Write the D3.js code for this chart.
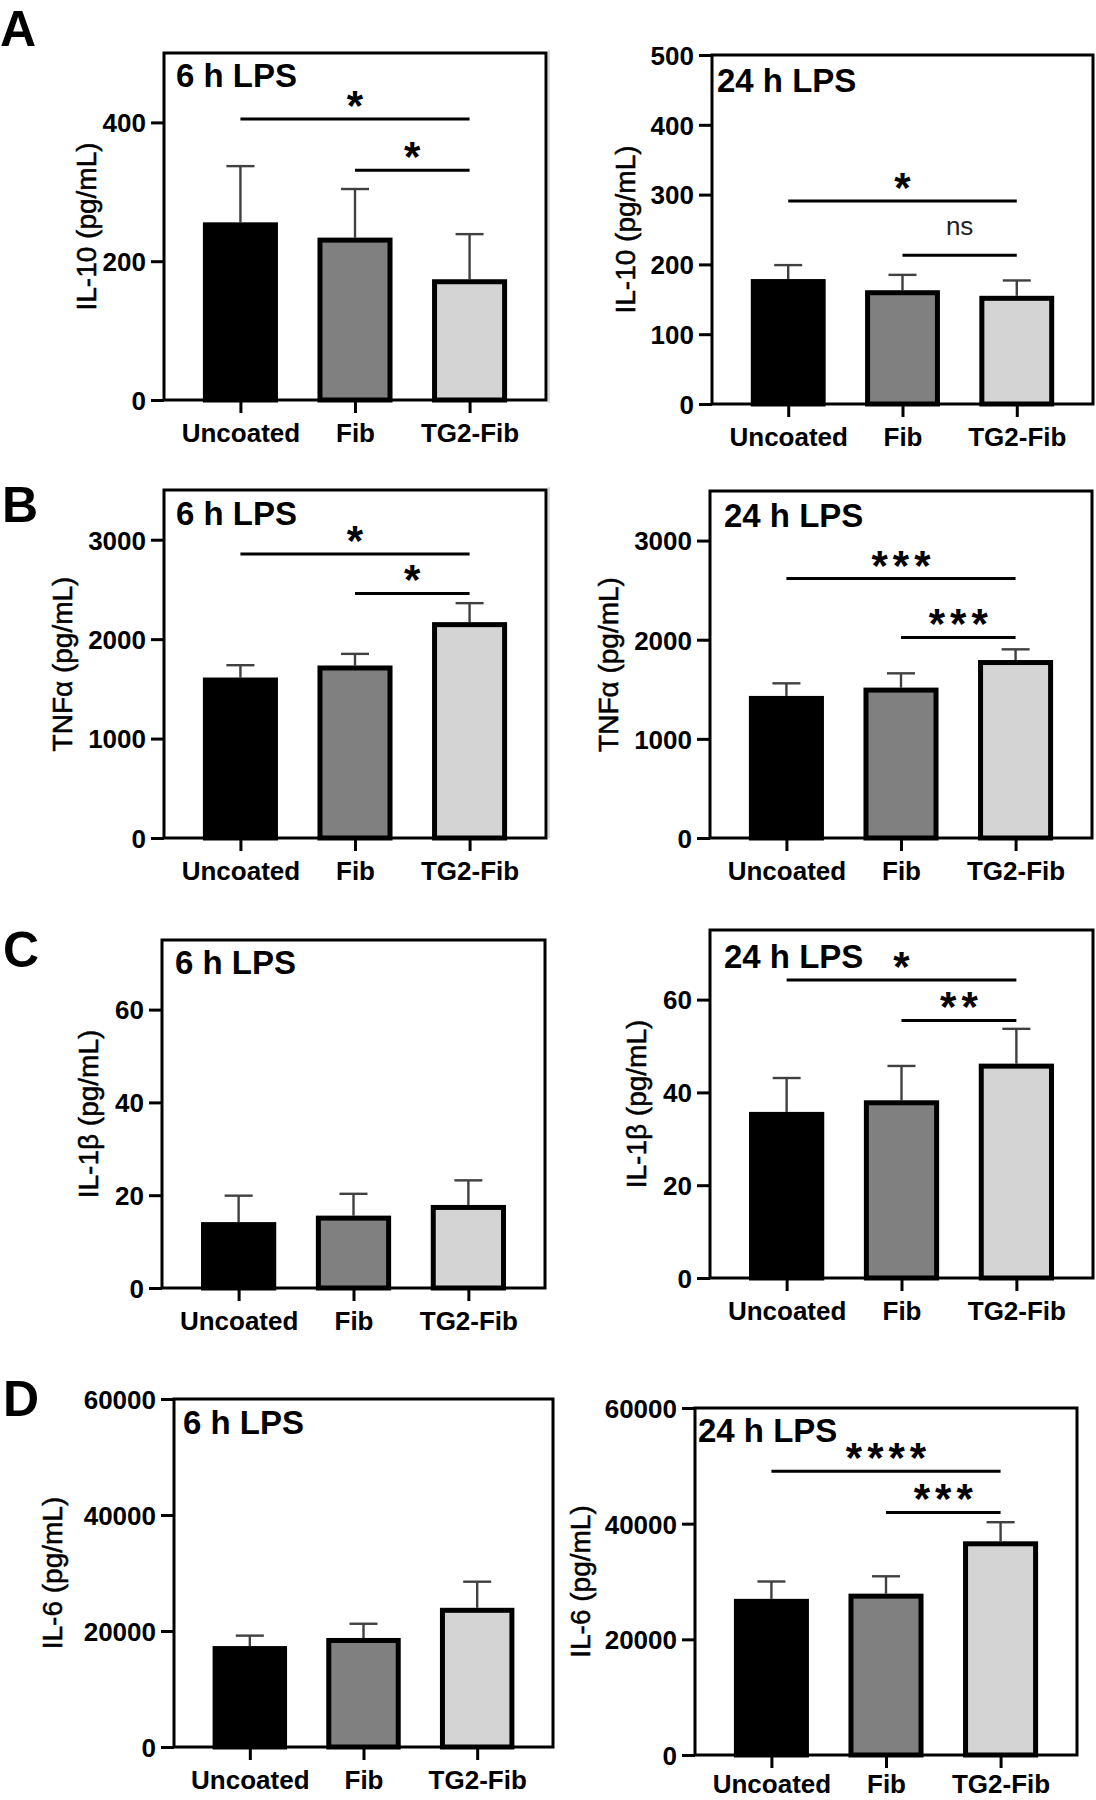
<!DOCTYPE html>
<html><head><meta charset="utf-8">
<script src="https://cdn.jsdelivr.net/npm/d3@7"></script>
<style>
html,body{margin:0;padding:0;background:#fff;}
svg text{font-family:"Liberation Sans",Arial,Helvetica,sans-serif;}
</style>
</head><body>
<svg id="chart" width="1096" height="1800"></svg>
<script>
// ---------- data ----------
const categories = ["Uncoated", "Fib", "TG2-Fib"];

const il10_6h_mean = [256, 234, 174];
const il10_6h_err = [81, 70, 65];
const il10_6h_ticks = [0, 200, 400];
const il10_6h_sig = [
  {from: 0, to: 2, y: 405, label: "*"},
  {from: 1, to: 2, y: 331, label: "*"}
];

const il10_24h_mean = [179, 163, 155];
const il10_24h_err = [20, 22, 22];
const il10_24h_ticks = [0, 100, 200, 300, 400, 500];
const il10_24h_sig = [
  {from: 0, to: 2, y: 291, label: "*"},
  {from: 1, to: 2, y: 213, label: "ns"}
];

const tnf_6h_mean = [1614, 1735, 2171];
const tnf_6h_err = [124, 117, 191];
const tnf_6h_ticks = [0, 1000, 2000, 3000];
const tnf_6h_sig = [
  {from: 0, to: 2, y: 2856, label: "*"},
  {from: 1, to: 2, y: 2460, label: "*"}
];

const tnf_24h_mean = [1433, 1517, 1795];
const tnf_24h_err = [127, 144, 108];
const tnf_24h_ticks = [0, 1000, 2000, 3000];
const tnf_24h_sig = [
  {from: 0, to: 2, y: 2617, label: "***"},
  {from: 1, to: 2, y: 2023, label: "***"}
];

const il1b_6h_mean = [14.2, 15.6, 17.9];
const il1b_6h_err = [5.7, 4.7, 5.3];
const il1b_6h_ticks = [0, 20, 40, 60];
const il1b_6h_sig = [];

const il1b_24h_mean = [35.8, 38.3, 46.2];
const il1b_24h_err = [7.3, 7.4, 7.5];
const il1b_24h_ticks = [0, 20, 40, 60];
const il1b_24h_sig = [
  {from: 0, to: 2, y: 64.2, label: "*"},
  {from: 1, to: 2, y: 55.5, label: "**"}
];

const il6_6h_mean = [17400, 18800, 24000];
const il6_6h_err = [1800, 2450, 4500];
const il6_6h_ticks = [0, 20000, 40000, 60000];
const il6_6h_sig = [];

const il6_24h_mean = [27000, 27900, 36950];
const il6_24h_err = [3000, 3000, 3300];
const il6_24h_ticks = [0, 20000, 40000, 60000];
const il6_24h_sig = [
  {from: 0, to: 2, y: 49080, label: "****"},
  {from: 1, to: 2, y: 41950, label: "***"}
];

// ---------- panel table (built from the arrays above + layout) ----------
const panels = [
  {mean: il10_6h_mean, err: il10_6h_err, ticks: il10_6h_ticks, ymax: 500, sig: il10_6h_sig,
   ylab: "IL-10 (pg/mL)", title: "6 h LPS", letter: "A",
   box: [164, 546, 53, 400], ylabX: 86, tdx: 12, tdy: 34, xlabDy: 42, letterPos: [0, 46]},
  {mean: il10_24h_mean, err: il10_24h_err, ticks: il10_24h_ticks, ymax: 500, sig: il10_24h_sig,
   ylab: "IL-10 (pg/mL)", title: "24 h LPS",
   box: [712, 1093, 55, 404], ylabX: 625, tdx: 5, tdy: 37, xlabDy: 42},
  {mean: tnf_6h_mean, err: tnf_6h_err, ticks: tnf_6h_ticks, ymax: 3500, sig: tnf_6h_sig,
   ylab: "TNFα (pg/mL)", title: "6 h LPS", letter: "B",
   box: [164, 546, 490, 838], ylabX: 62, tdx: 12, tdy: 35, xlabDy: 42, letterPos: [2, 522]},
  {mean: tnf_24h_mean, err: tnf_24h_err, ticks: tnf_24h_ticks, ymax: 3500, sig: tnf_24h_sig,
   ylab: "TNFα (pg/mL)", title: "24 h LPS",
   box: [710, 1092, 491, 838], ylabX: 608, tdx: 14, tdy: 36, xlabDy: 42},
  {mean: il1b_6h_mean, err: il1b_6h_err, ticks: il1b_6h_ticks, ymax: 75, sig: il1b_6h_sig,
   ylab: "IL-1β (pg/mL)", title: "6 h LPS", letter: "C",
   box: [162, 545, 940, 1288], ylabX: 88, tdx: 13, tdy: 34, xlabDy: 42, letterPos: [3, 967]},
  {mean: il1b_24h_mean, err: il1b_24h_err, ticks: il1b_24h_ticks, ymax: 75, sig: il1b_24h_sig,
   ylab: "IL-1β (pg/mL)", title: "24 h LPS",
   box: [710, 1093, 930, 1278], ylabX: 636, tdx: 14, tdy: 38, xlabDy: 42},
  {mean: il6_6h_mean, err: il6_6h_err, ticks: il6_6h_ticks, ymax: 60000, sig: il6_6h_sig,
   ylab: "IL-6 (pg/mL)", title: "6 h LPS", letter: "D",
   box: [174, 553, 1399, 1747], ylabX: 52, tdx: 9, tdy: 35, xlabDy: 42, letterPos: [3, 1416]},
  {mean: il6_24h_mean, err: il6_24h_err, ticks: il6_24h_ticks, ymax: 60000, sig: il6_24h_sig,
   ylab: "IL-6 (pg/mL)", title: "24 h LPS",
   box: [695, 1077, 1408, 1755], ylabX: 580, tdx: 3, tdy: 34, xlabDy: 38}
];

const barFills = ["#000000", "#808080", "#d4d4d4"];
const svg = d3.select("#chart");

// faint original panel separators
svg.append("line").attr("x1", 549).attr("x2", 549).attr("y1", 50).attr("y2", 403)
  .attr("stroke", "#d0d0d0").attr("stroke-width", 1.5);
svg.append("line").attr("x1", 549).attr("x2", 549).attr("y1", 487).attr("y2", 838)
  .attr("stroke", "#d0d0d0").attr("stroke-width", 1.5);

panels.forEach(p => {
  const [x0, x1, y0, y1] = p.box;
  const g = svg.append("g");
  const y = d3.scaleLinear().domain([0, p.ymax]).range([y1, y0]);
  const x = d3.scalePoint().domain(categories).range([x0, x1]).padding(0.667);
  const bw = x.step() * 0.655;
  const data = categories.map((c, i) => ({c, m: p.mean[i], e: p.err[i], i}));

  // error bars (upper)
  const eb = g.append("g");
  data.forEach(d => {
    eb.append("line").attr("x1", x(d.c)).attr("x2", x(d.c))
      .attr("y1", y(d.m)).attr("y2", y(d.m + d.e))
      .attr("stroke", "#404040").attr("stroke-width", 2.4);
    eb.append("line").attr("x1", x(d.c) - 14).attr("x2", x(d.c) + 14)
      .attr("y1", y(d.m + d.e)).attr("y2", y(d.m + d.e))
      .attr("stroke", "#404040").attr("stroke-width", 2.4);
  });

  // bars
  g.append("g").selectAll("rect").data(data).join("rect")
    .attr("x", d => x(d.c) - bw / 2 + 2.5)
    .attr("width", bw - 5)
    .attr("y", d => y(d.m) + 2.5)
    .attr("height", d => y(0) - y(d.m) - 2.5)
    .attr("fill", d => barFills[d.i])
    .attr("stroke", "#000").attr("stroke-width", 5);

  // frame
  g.append("rect").attr("x", x0).attr("y", y0).attr("width", x1 - x0).attr("height", y1 - y0)
    .attr("fill", "none").attr("stroke", "#000").attr("stroke-width", 3);

  // y axis
  const ya = g.append("g").attr("transform", `translate(${x0},0)`)
    .call(d3.axisLeft(y).tickValues(p.ticks).tickSize(13).tickSizeOuter(0).tickPadding(5)
      .tickFormat(d3.format("d")));
  ya.select(".domain").remove();
  ya.selectAll(".tick line").attr("stroke", "#000").attr("stroke-width", 3);
  ya.selectAll(".tick text").attr("fill", "#000").attr("font-size", 26).attr("font-weight", "bold")
    .attr("dy", "0.36em");

  // x axis
  const xa = g.append("g").attr("transform", `translate(0,${y1})`)
    .call(d3.axisBottom(x).tickSize(13).tickSizeOuter(0));
  xa.select(".domain").remove();
  xa.selectAll(".tick line").attr("stroke", "#000").attr("stroke-width", 3);
  xa.selectAll(".tick text").attr("fill", "#000").attr("font-size", 26).attr("font-weight", "bold")
    .attr("dy", null).attr("y", p.xlabDy);

  // y label
  g.append("text")
    .attr("transform", `translate(${p.ylabX},${(y0 + y1) / 2}) rotate(-90)`)
    .attr("text-anchor", "middle").attr("dy", "0.35em")
    .attr("font-size", 28).attr("fill", "#000")
    .attr("stroke", "#000").attr("stroke-width", 0.5)
    .text(p.ylab);

  // title
  g.append("text").attr("x", x0 + p.tdx).attr("y", y0 + p.tdy)
    .attr("font-size", 33).attr("font-weight", "bold").attr("fill", "#000")
    .text(p.title);

  // significance
  p.sig.forEach(s => {
    const xa1 = x(categories[s.from]), xa2 = x(categories[s.to]);
    g.append("line").attr("x1", xa1).attr("x2", xa2).attr("y1", y(s.y)).attr("y2", y(s.y))
      .attr("stroke", "#000").attr("stroke-width", 3);
    if (s.label === "ns") {
      g.append("text").attr("x", (xa1 + xa2) / 2).attr("y", y(s.y) - 20)
        .attr("text-anchor", "middle").attr("font-size", 26).attr("fill", "#222")
        .text(s.label);
    } else {
      const ls = 5;
      g.append("text").attr("x", (xa1 + xa2) / 2 + ls / 2).attr("y", y(s.y) + 1)
        .attr("text-anchor", "middle").attr("font-size", 42).attr("font-weight", "bold")
        .attr("letter-spacing", ls).attr("fill", "#000")
        .text(s.label);
    }
  });

  if (p.letter) {
    svg.append("text").attr("x", p.letterPos[0]).attr("y", p.letterPos[1])
      .attr("font-size", 50).attr("font-weight", "bold").attr("fill", "#000")
      .text(p.letter);
  }
});
</script>
</body></html>
